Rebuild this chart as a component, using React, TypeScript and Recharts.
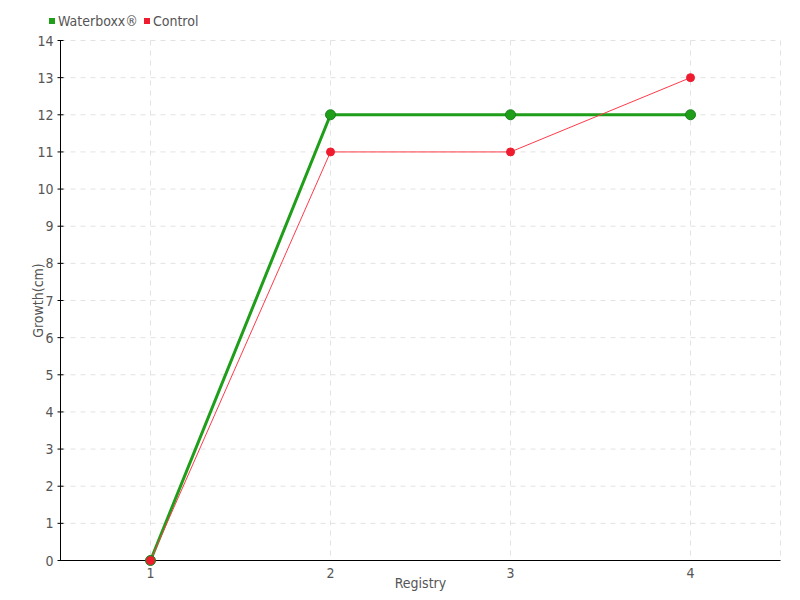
import { CartesianGrid, Line, LineChart, XAxis, YAxis } from "recharts";

const registries = ["1", "2", "3", "4"];
const waterboxx = [0, 12, 12, 12];
const control = [0, 11, 11, 13];
const yTicks = [0, 1, 2, 3, 4, 5, 6, 7, 8, 9, 10, 11, 12, 13, 14];

const GREEN = "#1f9e1a";
const RED = "#ee1c2e";
const FONT = "'DejaVu Sans', sans-serif";
const TEXT = "#555";

const data = registries.map((r, i) => ({
  registry: r,
  waterboxx: waterboxx[i],
  control: control[i],
}));

function ChartLegend() {
  const items = [
    { label: "Waterboxx®", color: GREEN },
    { label: "Control", color: RED },
  ];
  return (
    <div
      style={{
        position: "absolute",
        left: 49,
        top: 13,
        display: "flex",
        gap: 6,
        fontFamily: FONT,
        fontStretch: "condensed",
        fontSize: 14,
        color: TEXT,
      }}
    >
      {items.map((it) => (
        <span key={it.label} style={{ display: "flex", alignItems: "center", gap: 3 }}>
          <span style={{ width: 6, height: 6, background: it.color, display: "inline-block" }} />
          {it.label}
        </span>
      ))}
    </div>
  );
}

// y tick: a short mark crossing the axis plus the label
function YTick(props: any) {
  const { x, y, payload } = props;
  const ax = x + 7;
  return (
    <g>
      <line x1={ax - 3} x2={ax + 3} y1={y} y2={y} stroke="#000" />
      <text x={x} y={y} dy={5} textAnchor="end" fill={TEXT} fontSize={14} fontFamily={FONT} style={{ fontStretch: "condensed" }}>
        {payload.value}
      </text>
    </g>
  );
}

export default function App() {
  const tick = { fill: TEXT, fontSize: 14, fontFamily: FONT, style: { fontStretch: "condensed" } };
  return (
    <div style={{ position: "absolute", left: 0, top: 0, width: 800, height: 600, background: "#fff" }}>
      <LineChart
        width={800}
        height={600}
        data={data}
        margin={{ top: 40.5, right: 19.5, left: 0.5, bottom: 0 }}
        style={{ fontStretch: "condensed" }}
      >
        <CartesianGrid stroke="#e2e2e2" strokeDasharray="5 5" />
        <XAxis
          dataKey="registry"
          height={39.5}
          padding={{ left: 90, right: 90 }}
          tick={tick}
          tickLine={false}
          stroke="#000"
          axisLine={{ stroke: "#000" }}
          label={{ value: "Registry", position: "insideBottom", offset: 12, fill: TEXT, fontSize: 14, fontFamily: FONT }}
        />
        <YAxis
          width={60}
          domain={[0, 14]}
          ticks={yTicks}
          interval={0}
          tick={<YTick />}
          tickSize={3}
          tickMargin={4}
          tickLine={false}
          stroke="#000"
          axisLine={{ stroke: "#000" }}
          label={{ value: "Growth(cm)", angle: -90, position: "center", dx: 8, fill: TEXT, fontSize: 14, fontFamily: FONT }}
        />
        <Line
          type="linear"
          dataKey="waterboxx"
          stroke={GREEN}
          strokeWidth={3}
          dot={{ r: 5, fill: GREEN, stroke: "#17801a", strokeWidth: 1 }}
          isAnimationActive={false}
        />
        <Line
          type="linear"
          dataKey="control"
          stroke="#ff3a4a"
          strokeWidth={1}
          dot={{ r: 4, fill: RED, stroke: RED, strokeWidth: 1 }}
          isAnimationActive={false}
        />
      </LineChart>
      <ChartLegend />
    </div>
  );
}
